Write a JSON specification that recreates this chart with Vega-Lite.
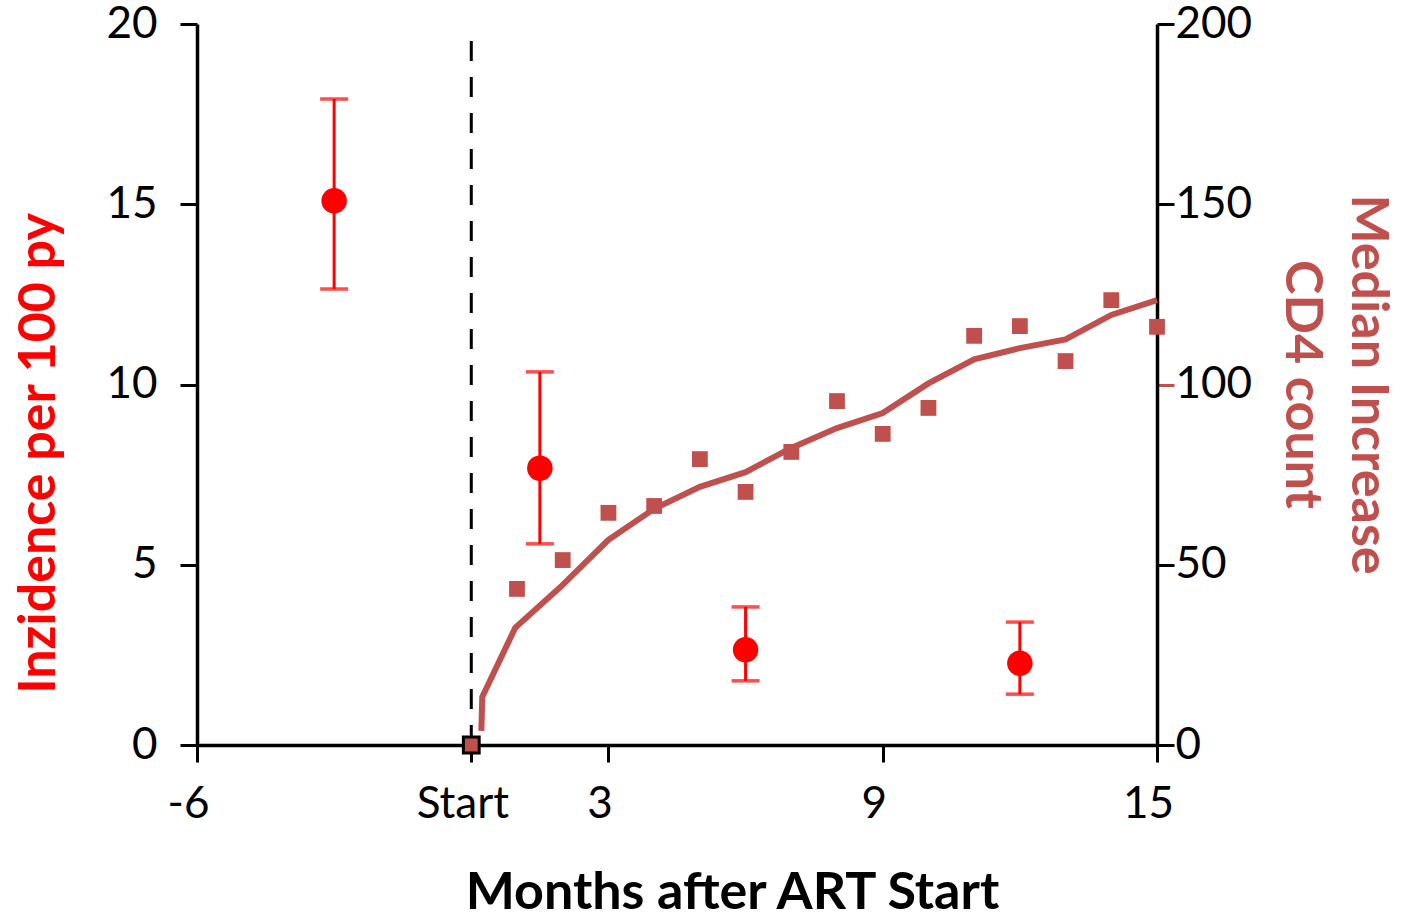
{
  "$schema": "https://vega.github.io/schema/vega-lite/v6.json",
  "width": 960,
  "height": 721,
  "autosize": {"type": "none"},
  "padding": {"left": 197, "top": 24, "right": 247, "bottom": 173},
  "background": "white",
  "config": {
    "view": {"stroke": null},
    "font": "Lato",
    "axis": {
      "grid": false,
      "domainColor": "black",
      "domainWidth": 3.5,
      "tickColor": "black",
      "tickWidth": 3,
      "tickSize": 17,
      "labelColor": "black",
      "labelFontSize": 44,
      "labelFont": "Lato",
      "titleFont": "Lato",
      "titleFontWeight": "bold",
      "titleFontSize": 52
    },
    "axisLeft": {
      "labelPadding": 23,
      "titleColor": "#FF0000",
      "titleAngle": -90,
      "titleX": -159,
      "titleY": 429,
      "titleBaseline": "middle",
      "titleAlign": "center"
    },
    "axisRight": {
      "labelPadding": 1,
      "titleColor": "#C0504D",
      "titleAngle": 90,
      "titleX": 210,
      "titleY": 360,
      "titleBaseline": "middle",
      "titleAlign": "center",
      "titleLineHeight": 66
    }
  },
  "datasets": {
    "incidence": [
      {"month": -3, "inc": 15.1, "lo": 12.65, "hi": 17.92},
      {"month": 1.5, "inc": 7.68, "lo": 5.58, "hi": 10.35},
      {"month": 6, "inc": 2.64, "lo": 1.78, "hi": 3.83},
      {"month": 12, "inc": 2.27, "lo": 1.41, "hi": 3.41}
    ],
    "startline": [{"month": 0, "lo": 0, "hi": 19.8}],
    "cd4points": [
      {"month": 0, "cd4": 0},
      {"month": 1, "cd4": 43.3},
      {"month": 2, "cd4": 51.3},
      {"month": 3, "cd4": 64.4},
      {"month": 4, "cd4": 66.3},
      {"month": 5, "cd4": 79.3},
      {"month": 6, "cd4": 70.2},
      {"month": 7, "cd4": 81.3},
      {"month": 8, "cd4": 95.4},
      {"month": 9, "cd4": 86.3},
      {"month": 10, "cd4": 93.5},
      {"month": 11, "cd4": 113.5},
      {"month": 12, "cd4": 116.2},
      {"month": 13, "cd4": 106.5},
      {"month": 14, "cd4": 123.4},
      {"month": 15, "cd4": 116.0}
    ],
    "cd4trend": [
      {"month": 0.22, "cd4": 3.9},
      {"month": 0.24, "cd4": 13.3},
      {"month": 0.96, "cd4": 32.5},
      {"month": 2, "cd4": 44.4},
      {"month": 3, "cd4": 56.9},
      {"month": 4, "cd4": 65.5},
      {"month": 5, "cd4": 71.6},
      {"month": 6, "cd4": 75.7},
      {"month": 7, "cd4": 82.4},
      {"month": 8, "cd4": 87.9},
      {"month": 9, "cd4": 92.1},
      {"month": 10, "cd4": 100.3},
      {"month": 11, "cd4": 107.0},
      {"month": 12, "cd4": 110.1},
      {"month": 13, "cd4": 112.5},
      {"month": 14, "cd4": 119.3},
      {"month": 15, "cd4": 123.4}
    ]
  },
  "encoding": {
    "x": {
      "field": "month",
      "type": "quantitative",
      "scale": {"domain": [-6, 15], "nice": false, "zero": false},
      "axis": {
        "values": [-6, 0, 3, 9, 15],
        "labelExpr": "datum.value == 0 ? 'Start' : '' + datum.value",
        "labelOffset": -9,
        "labelPadding": 20,
        "labelFlush": false,
        "title": "Months after ART Start",
        "titleX": 535,
        "titleY": 147,
        "titleBaseline": "middle",
        "titleAlign": "center",
        "titleColor": "black"
      }
    }
  },
  "layer": [
    {
      "layer": [
        {
          "data": {"name": "startline"},
          "mark": {"type": "rule", "color": "black", "strokeWidth": 3, "strokeDash": [20, 16]},
          "encoding": {
            "y": {"field": "lo", "type": "quantitative", "scale": {"domain": [0, 20], "nice": false}, "axis": {"orient": "left", "values": [0, 5, 10, 15, 20], "title": "Inzidence per 100 py"}},
            "y2": {"field": "hi"}
          }
        },
        {
          "data": {"name": "incidence"},
          "mark": {"type": "rule", "color": "#FF0000", "strokeWidth": 3},
          "encoding": {
            "y": {"field": "lo", "type": "quantitative", "axis": {"orient": "left", "values": [0, 5, 10, 15, 20], "title": "Inzidence per 100 py"}},
            "y2": {"field": "hi"}
          }
        },
        {
          "data": {"name": "incidence"},
          "mark": {"type": "tick", "color": "#FF0000", "orient": "horizontal", "size": 28, "thickness": 3.5},
          "encoding": {
            "y": {"field": "lo", "type": "quantitative", "axis": {"orient": "left", "values": [0, 5, 10, 15, 20], "title": "Inzidence per 100 py"}}
          }
        },
        {
          "data": {"name": "incidence"},
          "mark": {"type": "tick", "color": "#FF0000", "orient": "horizontal", "size": 28, "thickness": 3.5},
          "encoding": {
            "y": {"field": "hi", "type": "quantitative", "axis": {"orient": "left", "values": [0, 5, 10, 15, 20], "title": "Inzidence per 100 py"}}
          }
        },
        {
          "data": {"name": "incidence"},
          "mark": {"type": "point", "shape": "circle", "filled": true, "color": "#FF0000", "opacity": 1, "size": 650},
          "encoding": {
            "y": {"field": "inc", "type": "quantitative", "axis": {"orient": "left", "values": [0, 5, 10, 15, 20], "title": "Inzidence per 100 py"}}
          }
        }
      ]
    },
    {
      "layer": [
        {
          "data": {"name": "cd4trend"},
          "mark": {"type": "line", "color": "#C0504D", "strokeWidth": 6, "interpolate": "linear"},
          "encoding": {
            "y": {
              "field": "cd4",
              "type": "quantitative",
              "scale": {"domain": [0, 200], "nice": false},
              "axis": {
                "orient": "right",
                "values": [0, 50, 100, 150, 200],
                "title": ["Median Increase", "CD4 count"],
                "tickColor": {"condition": {"test": "datum.value == 100", "value": "#C0504D"}, "value": "black"}
              }
            }
          }
        },
        {
          "data": {"name": "cd4points"},
          "mark": {"type": "square", "filled": true, "color": "#C0504D", "opacity": 1, "size": 250},
          "encoding": {
            "y": {
              "field": "cd4",
              "type": "quantitative",
              "axis": {
                "orient": "right",
                "values": [0, 50, 100, 150, 200],
                "title": ["Median Increase", "CD4 count"],
                "tickColor": {"condition": {"test": "datum.value == 100", "value": "#C0504D"}, "value": "black"}
              }
            },
            "stroke": {"condition": {"test": "datum.month == 0", "value": "black"}, "value": null},
            "strokeWidth": {"condition": {"test": "datum.month == 0", "value": 3}, "value": 0}
          }
        }
      ]
    }
  ],
  "resolve": {"scale": {"y": "independent"}}
}
